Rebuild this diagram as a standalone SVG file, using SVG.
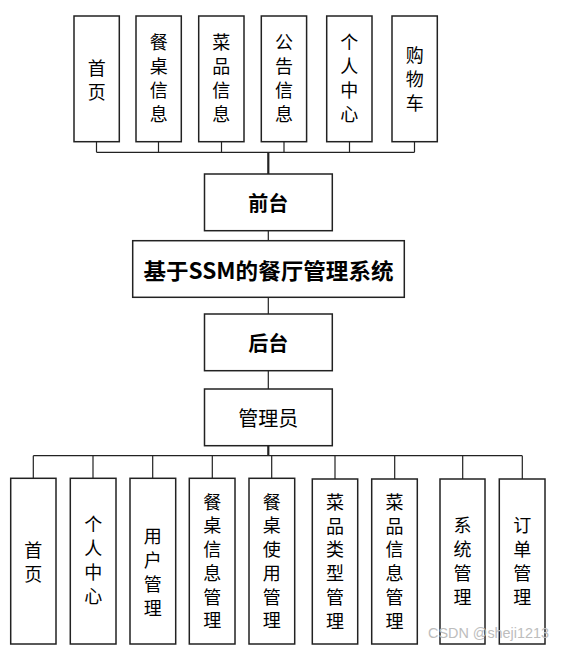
<svg xmlns="http://www.w3.org/2000/svg" width="565" height="650" viewBox="0 0 565 650">
<style>
.box{fill:#fff;stroke:#222;stroke-width:1.5}
.ln{stroke:#222;stroke-width:1.2;fill:none}
.trunk{stroke:#222;stroke-width:2.2;fill:none}
.v{font-family:"Noto Sans CJK SC","Noto Sans",sans-serif;font-size:18px;fill:#000;text-anchor:middle}
.h{font-family:"Noto Sans CJK SC","Noto Sans",sans-serif;font-size:20px;fill:#000;text-anchor:middle;dominant-baseline:central}
.b{font-weight:bold}
.wm{font-family:"Liberation Sans",Arial,sans-serif;font-size:14px;fill:#bdbdbd}
</style>
<rect width="565" height="650" fill="#fff"/>
<g id="connectors">
  <path class="ln" d="M96.5,141.5V152.3M158.5,141.5V152.3M221.5,141.5V152.3M284,141.5V152.3M349.5,141.5V152.3M414.5,141.5V152.3M96.5,152.3H414.5"/>
  <path class="trunk" d="M268.3,152.3V174"/>
  <path class="ln" d="M268.3,231V241M268.3,297.5V314M268.3,371V389"/>
  <path class="trunk" d="M268.3,445.5V455.7"/>
  <path class="ln" d="M33.3,455.7H522.3M33.3,455.7V478.5M93,455.7V478.5M152.7,455.7V478.5M212.3,455.7V478.5M271.7,455.7V478.5M335,455.7V479M394.7,455.7V479M462.7,455.7V479M522.3,455.7V479"/>
</g>
<g id="t1"><rect class="box" x="74" y="16" width="45.3" height="125.7"/><text class="v"><tspan x="96.7" y="74.5">首</tspan><tspan x="96.7" y="98.5">页</tspan></text></g>
<g id="t2"><rect class="box" x="136" y="16" width="45.3" height="125.7"/><text class="v"><tspan x="158.7" y="49">餐</tspan><tspan x="158.7" y="73">桌</tspan><tspan x="158.7" y="97">信</tspan><tspan x="158.7" y="121">息</tspan></text></g>
<g id="t3"><rect class="box" x="198.7" y="16" width="45.3" height="125.7"/><text class="v"><tspan x="221.3" y="49">菜</tspan><tspan x="221.3" y="73">品</tspan><tspan x="221.3" y="97">信</tspan><tspan x="221.3" y="121">息</tspan></text></g>
<g id="t4"><rect class="box" x="261.3" y="16" width="45.3" height="125.7"/><text class="v"><tspan x="284" y="49">公</tspan><tspan x="284" y="73">告</tspan><tspan x="284" y="97">信</tspan><tspan x="284" y="121">息</tspan></text></g>
<g id="t5"><rect class="box" x="326.7" y="16" width="45.3" height="125.7"/><text class="v"><tspan x="349.3" y="49">个</tspan><tspan x="349.3" y="73">人</tspan><tspan x="349.3" y="97">中</tspan><tspan x="349.3" y="121">心</tspan></text></g>
<g id="t6"><rect class="box" x="392" y="16" width="45.3" height="125.7"/><text class="v"><tspan x="414.7" y="62">购</tspan><tspan x="414.7" y="86">物</tspan><tspan x="414.7" y="110">车</tspan></text></g>
<g id="front"><rect class="box" x="204.5" y="174" width="127.8" height="56.7"/><text class="h b" x="268.3" y="202.5">前台</text></g>
<g id="main"><rect class="box" x="132.7" y="240.7" width="271.6" height="56.6"/><text class="h b" x="268.5" y="269" style="font-size:22px" textLength="250" lengthAdjust="spacingAndGlyphs">基于SSM的餐厅管理系统</text></g>
<g id="back"><rect class="box" x="204.5" y="314" width="127.8" height="56.7"/><text class="h b" x="268.3" y="342.5">后台</text></g>
<g id="admin"><rect class="box" x="204.5" y="389" width="127.8" height="56.7"/><text class="h" x="268.3" y="417">管理员</text></g>
<g id="b1"><rect class="box" x="10.7" y="478.3" width="45.3" height="165.7"/><text class="v"><tspan x="33.3" y="556.5">首</tspan><tspan x="33.3" y="580.5">页</tspan></text></g>
<g id="b2"><rect class="box" x="70.3" y="478.3" width="45.7" height="165.7"/><text class="v"><tspan x="93.2" y="531">个</tspan><tspan x="93.2" y="555">人</tspan><tspan x="93.2" y="579">中</tspan><tspan x="93.2" y="603">心</tspan></text></g>
<g id="b3"><rect class="box" x="130" y="478.3" width="45.7" height="165.7"/><text class="v"><tspan x="152.8" y="543">用</tspan><tspan x="152.8" y="567">户</tspan><tspan x="152.8" y="591">管</tspan><tspan x="152.8" y="615">理</tspan></text></g>
<g id="b4"><rect class="box" x="189.3" y="478.3" width="45.7" height="165.7"/><text class="v"><tspan x="212.2" y="508.7">餐</tspan><tspan x="212.2" y="532.4">桌</tspan><tspan x="212.2" y="556.1">信</tspan><tspan x="212.2" y="579.8">息</tspan><tspan x="212.2" y="603.5">管</tspan><tspan x="212.2" y="627.2">理</tspan></text></g>
<g id="b5"><rect class="box" x="249" y="478.3" width="45.7" height="165.7"/><text class="v"><tspan x="271.8" y="508.7">餐</tspan><tspan x="271.8" y="532.4">桌</tspan><tspan x="271.8" y="556.1">使</tspan><tspan x="271.8" y="579.8">用</tspan><tspan x="271.8" y="603.5">管</tspan><tspan x="271.8" y="627.2">理</tspan></text></g>
<g id="b6"><rect class="box" x="312.3" y="479" width="45.4" height="165"/><text class="v"><tspan x="335" y="509">菜</tspan><tspan x="335" y="532.7">品</tspan><tspan x="335" y="556.4">类</tspan><tspan x="335" y="580.1">型</tspan><tspan x="335" y="603.8">管</tspan><tspan x="335" y="627.5">理</tspan></text></g>
<g id="b7"><rect class="box" x="371.7" y="479" width="45.6" height="165"/><text class="v"><tspan x="394.5" y="509">菜</tspan><tspan x="394.5" y="532.7">品</tspan><tspan x="394.5" y="556.4">信</tspan><tspan x="394.5" y="580.1">息</tspan><tspan x="394.5" y="603.8">管</tspan><tspan x="394.5" y="627.5">理</tspan></text></g>
<g id="b8"><rect class="box" x="440" y="479" width="45" height="165"/><text class="v"><tspan x="462.5" y="532">系</tspan><tspan x="462.5" y="556">统</tspan><tspan x="462.5" y="580">管</tspan><tspan x="462.5" y="604">理</tspan></text></g>
<g id="b9"><rect class="box" x="499.3" y="479" width="45.7" height="165"/><text class="v"><tspan x="522.2" y="532">订</tspan><tspan x="522.2" y="556">单</tspan><tspan x="522.2" y="580">管</tspan><tspan x="522.2" y="604">理</tspan></text></g>
<text class="wm" x="428" y="638" textLength="121" lengthAdjust="spacingAndGlyphs">CSDN @sheji1213</text>
</svg>
